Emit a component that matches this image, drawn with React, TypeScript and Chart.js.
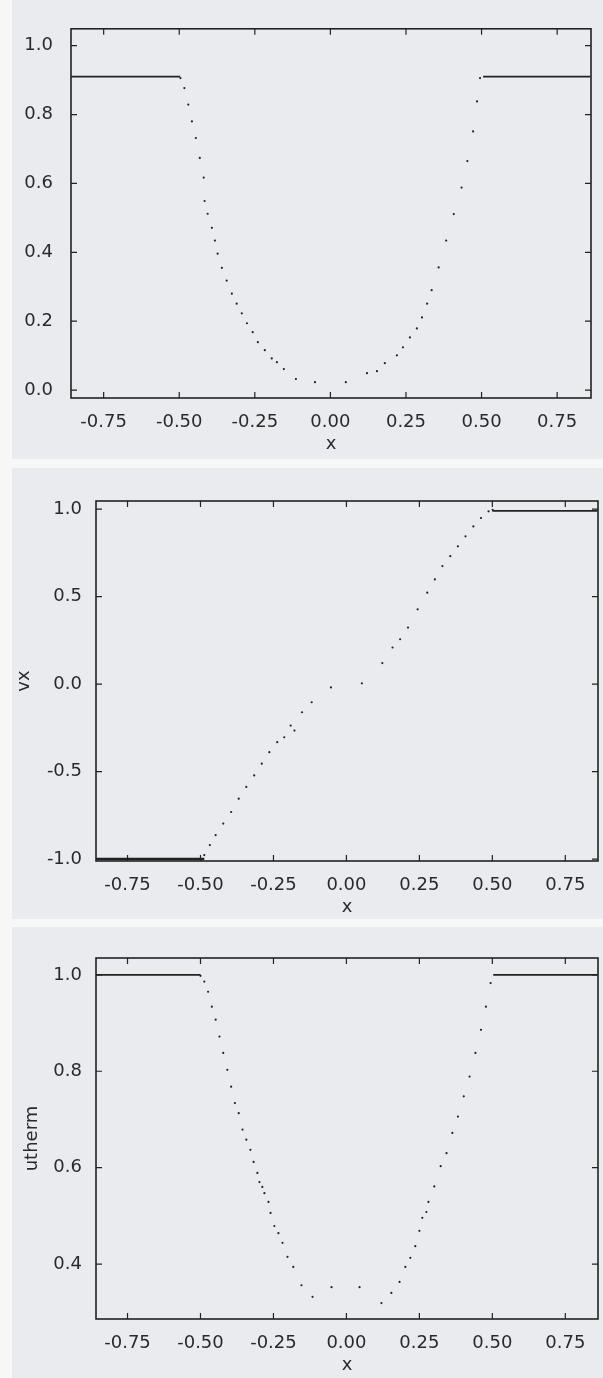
import React, { useEffect, useRef } from "react";
import { Chart, registerables } from "chart.js";

Chart.register(...registerables);

// ---------- shared axis ----------
const X_TICKS = [-0.75, -0.5, -0.25, 0, 0.25, 0.5, 0.75];
const X_MIN = -0.858;
const X_MAX = 0.862;

// ---------- panel 1: density ----------
const RHO_TICKS = [0, 0.2, 0.4, 0.6, 0.8, 1.0];
const RHO_LEVEL = 0.91;
const RHO_FLAT_LEFT = [-0.86, -0.497];
const RHO_FLAT_RIGHT = [0.505, 0.86];
const RHO_X = [
  -0.496, -0.483, -0.47, -0.458, -0.445, -0.432, -0.419, -0.416, -0.406, -0.392, -0.382,
  -0.373, -0.359, -0.343, -0.326, -0.31, -0.293, -0.276, -0.257, -0.24, -0.217, -0.194,
  -0.177, -0.154, -0.114, -0.051, 0.051, 0.121, 0.154, 0.18, 0.22, 0.24, 0.263, 0.286,
  0.303, 0.32, 0.335, 0.358, 0.383, 0.408, 0.434, 0.453, 0.472, 0.485, 0.495,
];
const RHO_Y = [
  0.906, 0.877, 0.829, 0.78, 0.732, 0.674, 0.617, 0.549, 0.512, 0.471, 0.434,
  0.396, 0.355, 0.318, 0.28, 0.251, 0.223, 0.194, 0.168, 0.139, 0.116, 0.092,
  0.081, 0.061, 0.032, 0.023, 0.023, 0.049, 0.055, 0.078, 0.101, 0.124, 0.153, 0.179,
  0.211, 0.251, 0.29, 0.356, 0.434, 0.511, 0.588, 0.665, 0.751, 0.838, 0.906,
];

// ---------- panel 2: vx ----------
const VX_TICKS = [-1.0, -0.5, 0.0, 0.5, 1.0];
const VX_LEFT = -1.0;
const VX_RIGHT = 0.99;
const VX_FLAT_LEFT = [-0.86, -0.487];
const VX_FLAT_RIGHT = [0.5, 0.86];
const VX_X = [
  -0.487, -0.468, -0.448, -0.422, -0.395, -0.369, -0.343, -0.316, -0.29, -0.264, -0.237,
  -0.213, -0.191, -0.178, -0.152, -0.119, -0.053, 0.053, 0.123, 0.158, 0.184, 0.211,
  0.244, 0.277, 0.303, 0.329, 0.356, 0.382, 0.408, 0.435, 0.461, 0.487, 0.501,
];
const VX_Y = [
  -0.977, -0.92, -0.863, -0.797, -0.731, -0.655, -0.588, -0.522, -0.455, -0.389, -0.332,
  -0.304, -0.237, -0.266, -0.161, -0.104, -0.019, 0.004, 0.12, 0.209, 0.256, 0.323,
  0.427, 0.522, 0.598, 0.674, 0.731, 0.787, 0.844, 0.901, 0.949, 0.987, 0.996,
];

// ---------- panel 3: utherm ----------
const UT_TICKS = [0.4, 0.6, 0.8, 1.0];
const UT_LEVEL = 1.0;
const UT_FLAT_LEFT = [-0.86, -0.5];
const UT_FLAT_RIGHT = [0.503, 0.86];
const UT_X = [
  -0.5, -0.487, -0.474, -0.461, -0.448, -0.435, -0.422, -0.408, -0.395, -0.382, -0.369,
  -0.356, -0.343, -0.329, -0.318, -0.305, -0.298, -0.288, -0.281, -0.267, -0.26, -0.247,
  -0.233, -0.219, -0.202, -0.182, -0.154, -0.116, -0.051, 0.045, 0.12, 0.154, 0.182,
  0.202, 0.219, 0.236, 0.25, 0.26, 0.274, 0.281, 0.301, 0.323, 0.343, 0.363, 0.382,
  0.402, 0.422, 0.442, 0.461, 0.478, 0.494,
];
const UT_Y = [
  0.998, 0.986, 0.965, 0.934, 0.907, 0.872, 0.838, 0.803, 0.768, 0.734, 0.713,
  0.679, 0.658, 0.637, 0.612, 0.589, 0.57, 0.56, 0.547, 0.529, 0.506, 0.479,
  0.464, 0.444, 0.415, 0.394, 0.356, 0.332, 0.352, 0.352, 0.319, 0.34, 0.363,
  0.394, 0.413, 0.437, 0.469, 0.496, 0.508, 0.529, 0.561, 0.603, 0.63, 0.672, 0.706,
  0.748, 0.789, 0.838, 0.886, 0.934, 0.983,
];

const INK = "#222222";
const TEXT = "#2a2a2a";
const FONT = "DejaVu Sans";

const framePlugin = {
  id: "gnuFrame",
  afterDatasetsDraw(chart: any) {
    const { ctx, chartArea: a, scales } = chart;
    ctx.save();
    ctx.strokeStyle = INK;
    ctx.lineWidth = 1.6;
    ctx.strokeRect(a.left, a.top, a.right - a.left, a.bottom - a.top);
    ctx.lineWidth = 1.2;
    const L = 6;
    ctx.beginPath();
    scales.x.ticks.forEach((t: any) => {
      const px = scales.x.getPixelForValue(t.value);
      ctx.moveTo(px, a.bottom);
      ctx.lineTo(px, a.bottom - L);
      ctx.moveTo(px, a.top);
      ctx.lineTo(px, a.top + L);
    });
    scales.y.ticks.forEach((t: any) => {
      const py = scales.y.getPixelForValue(t.value);
      ctx.moveTo(a.left, py);
      ctx.lineTo(a.left + L, py);
      ctx.moveTo(a.right, py);
      ctx.lineTo(a.right - L, py);
    });
    ctx.stroke();
    ctx.restore();
  },
};

type PanelProps = {
  top: number;
  height: number;
  plotTop: number;
  plotBottom: number;
  xs: number[];
  ys: number[];
  flats: { xr: number[]; y: number; w: number }[];
  yTicks: number[];
  yMin: number;
  yMax: number;
  yTitle: string;
  yTitlePad: number;
  axisW: number;
  padRight: number;
  yTickPad: number;
};

function Panel(p: PanelProps) {
  const ref = useRef<HTMLCanvasElement | null>(null);
  useEffect(() => {
    if (!ref.current) return;
    const padTop = p.plotTop - p.top;
    const xAxisH = p.height - (p.plotBottom - p.top);
    const titlePadBottom = xAxisH - 46 - 10.8;
    const datasets: any[] = [
      {
        data: p.xs.map((x, i) => ({ x, y: p.ys[i] })),
        pointRadius: 1.1,
        pointBackgroundColor: INK,
        pointBorderWidth: 0,
        showLine: false,
      },
      ...p.flats.map((f) => ({
        data: f.xr.map((x) => ({ x, y: f.y })),
        showLine: true,
        borderColor: INK,
        borderWidth: f.w,
        pointRadius: 0,
      })),
    ];
    const chart = new Chart(ref.current, {
      type: "scatter",
      data: { datasets },
      options: {
        responsive: false,
        animation: false,
        devicePixelRatio: 1,
        layout: { padding: { left: 0, top: padTop, right: p.padRight, bottom: 0 } },
        plugins: { legend: { display: false }, tooltip: { enabled: false } },
        scales: {
          x: {
            type: "linear",
            min: X_MIN,
            max: X_MAX,
            grid: { display: false, drawTicks: false },
            border: { display: false },
            afterBuildTicks: (axis: any) => {
              axis.ticks = X_TICKS.map((v) => ({ value: v }));
            },
            afterFit: (axis: any) => {
              axis.height = xAxisH;
            },
            ticks: {
              padding: 14,
              color: TEXT,
              font: { family: FONT, size: 18 },
              callback: (v: any) => Number(v).toFixed(2),
            },
            title: {
              display: true,
              text: "x",
              color: TEXT,
              font: { family: FONT, size: 18 },
              padding: { top: 0, bottom: titlePadBottom },
            },
          },
          y: {
            type: "linear",
            min: p.yMin,
            max: p.yMax,
            grid: { display: false, drawTicks: false },
            border: { display: false },
            afterBuildTicks: (axis: any) => {
              axis.ticks = p.yTicks.map((v) => ({ value: v }));
            },
            afterFit: (axis: any) => {
              axis.width = p.axisW;
            },
            ticks: {
              padding: p.yTickPad,
              color: TEXT,
              font: { family: FONT, size: 18 },
              callback: (v: any) => Number(v).toFixed(1),
            },
            title: {
              display: p.yTitle !== "",
              text: p.yTitle,
              color: TEXT,
              font: { family: FONT, size: 18 },
              padding: { top: p.yTitlePad, bottom: 0 },
            },
          },
        },
      },
      plugins: [framePlugin],
    } as any);
    return () => chart.destroy();
  }, []);
  return (
    <canvas
      ref={ref}
      width={603}
      height={p.height}
      style={{ position: "absolute", left: 0, top: p.top, width: 603, height: p.height }}
    />
  );
}

const PAPER = "#e9ebef";

export default function App() {
  return (
    <div
      style={{
        position: "absolute",
        left: 0,
        top: 0,
        width: 603,
        height: 1378,
        background: "#f7f7f8",
        overflow: "hidden",
      }}
    >
      <div style={{ position: "absolute", left: 12, top: 0, width: 591, height: 459, background: PAPER }} />
      <div style={{ position: "absolute", left: 12, top: 468, width: 591, height: 451, background: PAPER }} />
      <div style={{ position: "absolute", left: 12, top: 927, width: 591, height: 451, background: PAPER }} />
      <Panel
        top={0}
        height={462}
        plotTop={27}
        plotBottom={398}
        xs={RHO_X}
        ys={RHO_Y}
        flats={[
          { xr: RHO_FLAT_LEFT, y: RHO_LEVEL, w: 1.8 },
          { xr: RHO_FLAT_RIGHT, y: RHO_LEVEL, w: 1.8 },
        ]}
        yTicks={RHO_TICKS}
        yMin={-0.023}
        yMax={1.049}
        yTitle=""
        yTitlePad={0}
        axisW={71}
        padRight={12}
        yTickPad={18}
      />
      <Panel
        top={464}
        height={458}
        plotTop={501}
        plotBottom={861}
        xs={VX_X}
        ys={VX_Y}
        flats={[
          { xr: VX_FLAT_LEFT, y: VX_LEFT, w: 2.6 },
          { xr: VX_FLAT_RIGHT, y: VX_RIGHT, w: 1.8 },
        ]}
        yTicks={VX_TICKS}
        yMin={-1.011}
        yMax={1.046}
        yTitle="vx"
        yTitlePad={14}
        axisW={96}
        padRight={5}
        yTickPad={14}
      />
      <Panel
        top={922}
        height={456}
        plotTop={958}
        plotBottom={1319}
        xs={UT_X}
        ys={UT_Y}
        flats={[
          { xr: UT_FLAT_LEFT, y: UT_LEVEL, w: 1.8 },
          { xr: UT_FLAT_RIGHT, y: UT_LEVEL, w: 1.8 },
        ]}
        yTicks={UT_TICKS}
        yMin={0.286}
        yMax={1.035}
        yTitle="utherm"
        yTitlePad={22}
        axisW={96}
        padRight={5}
        yTickPad={14}
      />
    </div>
  );
}
